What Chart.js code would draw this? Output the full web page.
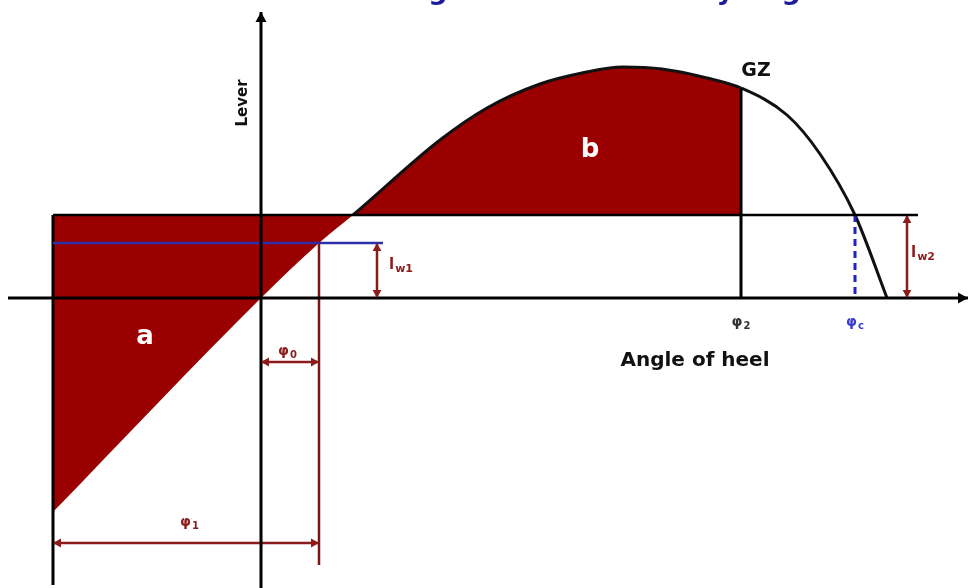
<!DOCTYPE html>
<html>
<head>
<meta charset="utf-8">
<script src="https://cdn.jsdelivr.net/npm/chart.js@4.4.0/dist/chart.umd.min.js"></script>
<style>
  html, body { margin: 0; padding: 0; background: #fff; }
  canvas { display: block; }
</style>
</head>
<body>
<canvas id="stability" width="970" height="588"></canvas>
<script>
// righting lever curve GZ against angle of heel
var gzAngle = [-20.8, 0, 5.8, 9.2, 17.9, 22.6, 27.9, 32.1, 36.2, 40.1, 44.6, 48.0, 52.6, 55.9, 59.4, 62.6];
var gzLever = [-21.4, 0, 5.5, 8.3, 15.8, 19.0, 21.4, 22.5, 23.1, 22.9, 22.0, 21.0, 18.3, 14.4, 8.3, 0];

// wind heeling levers and the angles that go with them
var lw1 = 5.5;        // steady wind lever
var lw2 = 8.3;        // gust lever
var phi0 = 5.8;       // heel under steady wind
var rollBack = -20.8; // angle of roll to windward
var phi2 = 48.0;
var phiC = 59.4;

var RED = '#9a0000';
var DARKRED = '#8c1c1c';
var BLUE = '#2e2ea6';
var NONE = 'rgba(0,0,0,0)';

function pt(x, y) { return { x: x, y: y }; }

function seg(x0, y0, x1, y1, color, width, extra) {
  var ds = {
    data: [pt(x0, y0), pt(x1, y1)],
    borderColor: color,
    borderWidth: width,
    pointRadius: 0,
    tension: 0,
    fill: false,
    order: 0
  };
  for (var k in extra) ds[k] = extra[k];
  return ds;
}

// first angle where the GZ curve reaches the gust lever
var lw2Cross = gzAngle[gzLever.findIndex(function (v, i) { return i > 0 && v >= lw2; })];
var gzAtPhi2 = gzLever[gzAngle.indexOf(phi2)];

var gzData = gzAngle.map(function (a, i) { return pt(a, gzLever[i]); });

var datasets = [
  // axes
  seg(0, -29, 0, 28.6, '#000', 3, { arrows: ['end'], head: 10 }),
  seg(-25.3, 0, 70.7, 0, '#000', 3, { arrows: ['end'], head: 10 }),
  // gust lever level and steady wind level
  seg(rollBack, lw2, 65.7, lw2, '#000', 2.5),
  seg(rollBack, lw1, 12.2, lw1, BLUE, 2.5),
  // angle markers
  seg(rollBack, lw2, rollBack, -28.7, '#000', 3),
  seg(phi0, lw1, phi0, -26.7, '#7d1414', 2.5),
  seg(phi2, gzAtPhi2, phi2, 0, '#000', 3),
  seg(phiC, lw2, phiC, 0, '#2323c4', 3, { borderDash: [7, 5] }),
  // dimension arrows
  seg(11.6, lw1, 11.6, 0, DARKRED, 2.5, { arrows: ['start', 'end'], head: 8 }),
  seg(64.6, lw2, 64.6, 0, DARKRED, 2.5, { arrows: ['start', 'end'], head: 8 }),
  seg(0, -6.4, phi0, -6.4, DARKRED, 2.5, { arrows: ['start', 'end'], head: 8 }),
  seg(rollBack, -24.5, phi0, -24.5, DARKRED, 2.5, { arrows: ['start', 'end'], head: 8 }),
  // GZ curve, areas a and b filled against the gust lever
  {
    data: gzData,
    borderColor: '#111',
    borderWidth: 3,
    pointRadius: 0,
    cubicInterpolationMode: 'monotone',
    backgroundColor: RED,
    fill: { value: lw2 },
    segment: {
      borderColor: function (c) { return c.p1.parsed.x <= lw2Cross ? NONE : undefined; },
      backgroundColor: function (c) { return c.p0.parsed.x >= phi2 ? NONE : undefined; }
    },
    order: 5
  }
];

var labels = [
  { text: 'Lever', x: -1.8, y: 19.5, size: 15, color: '#111', rotate: true },
  { text: 'Angle of heel', x: 43.4, y: -6.3, size: 20, color: '#111' },
  { text: 'GZ', x: 49.5, y: 22.7, size: 19, color: '#111' },
  { text: 'a', x: -11.6, y: -3.9, size: 26, color: '#fff' },
  { text: 'b', x: 32.9, y: 14.8, size: 26, color: '#fff' },
  { text: 'φ', sub: '2', x: 48.0, y: -2.4, size: 14, color: '#333' },
  { text: 'φ', sub: 'c', x: 59.4, y: -2.4, size: 14, color: '#3a3ad0' },
  { text: 'l', sub: 'w1', x: 12.8, y: 3.3, size: 15, color: DARKRED, left: true },
  { text: 'l', sub: 'w2', x: 65.0, y: 4.5, size: 15, color: DARKRED, left: true },
  { text: 'φ', sub: '0', x: 1.7, y: -5.3, size: 14, color: DARKRED, left: true },
  { text: 'φ', sub: '1', x: -8.1, y: -22.4, size: 14, color: DARKRED, left: true }
];

var title = 'Wind heeling lever and stability in gusts';

var arrowHeads = {
  id: 'arrowHeads',
  afterDatasetsDraw: function (chart) {
    var ctx = chart.ctx;
    chart.data.datasets.forEach(function (ds, i) {
      if (!ds.arrows) return;
      var pts = chart.getDatasetMeta(i).data;
      var h = ds.head || 8;
      ds.arrows.forEach(function (end) {
        var tip = end === 'end' ? pts[pts.length - 1] : pts[0];
        var from = end === 'end' ? pts[pts.length - 2] : pts[1];
        var ang = Math.atan2(tip.y - from.y, tip.x - from.x);
        ctx.save();
        ctx.translate(tip.x, tip.y);
        ctx.rotate(ang);
        ctx.beginPath();
        ctx.moveTo(0, 0);
        ctx.lineTo(-h, -h * 0.55);
        ctx.lineTo(-h, h * 0.55);
        ctx.closePath();
        ctx.fillStyle = ds.borderColor;
        ctx.fill();
        ctx.restore();
      });
    });
  }
};

var textLayer = {
  id: 'textLayer',
  beforeDraw: function (chart) {
    var ctx = chart.ctx;
    ctx.save();
    ctx.fillStyle = '#fff';
    ctx.fillRect(0, 0, chart.width, chart.height);
    ctx.restore();
  },
  afterDraw: function (chart) {
    var ctx = chart.ctx;
    var xs = chart.scales.x, ys = chart.scales.y;
    var fam = "'DejaVu Sans', Verdana, sans-serif";
    labels.forEach(function (l) {
      var px = xs.getPixelForValue(l.x), py = ys.getPixelForValue(l.y);
      ctx.save();
      ctx.fillStyle = l.color;
      ctx.textBaseline = 'middle';
      ctx.font = 'bold ' + l.size + 'px ' + fam;
      if (l.rotate) {
        ctx.translate(px, py);
        ctx.rotate(-Math.PI / 2);
        ctx.textAlign = 'center';
        ctx.fillText(l.text, 0, 0);
      } else if (l.sub) {
        var subSize = Math.round(l.size * 0.7);
        var w = ctx.measureText(l.text).width;
        ctx.font = 'bold ' + subSize + 'px ' + fam;
        var sw = ctx.measureText(l.sub).width;
        var x0 = l.left ? px : px - (w + 1 + sw) / 2;
        ctx.font = 'bold ' + l.size + 'px ' + fam;
        ctx.textAlign = 'left';
        ctx.fillText(l.text, x0, py);
        ctx.font = 'bold ' + subSize + 'px ' + fam;
        ctx.fillText(l.sub, x0 + w + 1, py + l.size * 0.3);
      } else {
        ctx.textAlign = 'center';
        ctx.fillText(l.text, px, py);
      }
      ctx.restore();
    });

    // heading, cut by the top edge so only its descenders show
    ctx.save();
    ctx.fillStyle = '#1c1c98';
    ctx.textBaseline = 'alphabetic';
    var gi = title.indexOf('g');
    var yi = title.indexOf('y');
    ctx.font = 'bold 100px ' + fam;
    var span = ctx.measureText(title.slice(0, yi)).width + ctx.measureText('y').width / 2 -
               ctx.measureText(title.slice(0, gi)).width - ctx.measureText('g').width / 2;
    var size = Math.round(100 * 284 / span);
    ctx.font = 'bold ' + size + 'px ' + fam;
    var tx = 438 - ctx.measureText(title.slice(0, gi)).width - ctx.measureText('g').width / 2;
    ctx.fillText(title, tx, -1);
    ctx.restore();
  }
};

new Chart(document.getElementById('stability'), {
  type: 'line',
  data: { datasets: datasets },
  options: {
    responsive: false,
    animation: false,
    layout: { padding: 0 },
    plugins: {
      legend: { display: false },
      tooltip: { enabled: false },
      title: { display: false }
    },
    scales: {
      x: { type: 'linear', min: -26.1, max: 70.9, display: false },
      y: { type: 'linear', min: -29, max: 29.8, display: false }
    }
  },
  plugins: [arrowHeads, textLayer]
});
</script>
</body>
</html>
